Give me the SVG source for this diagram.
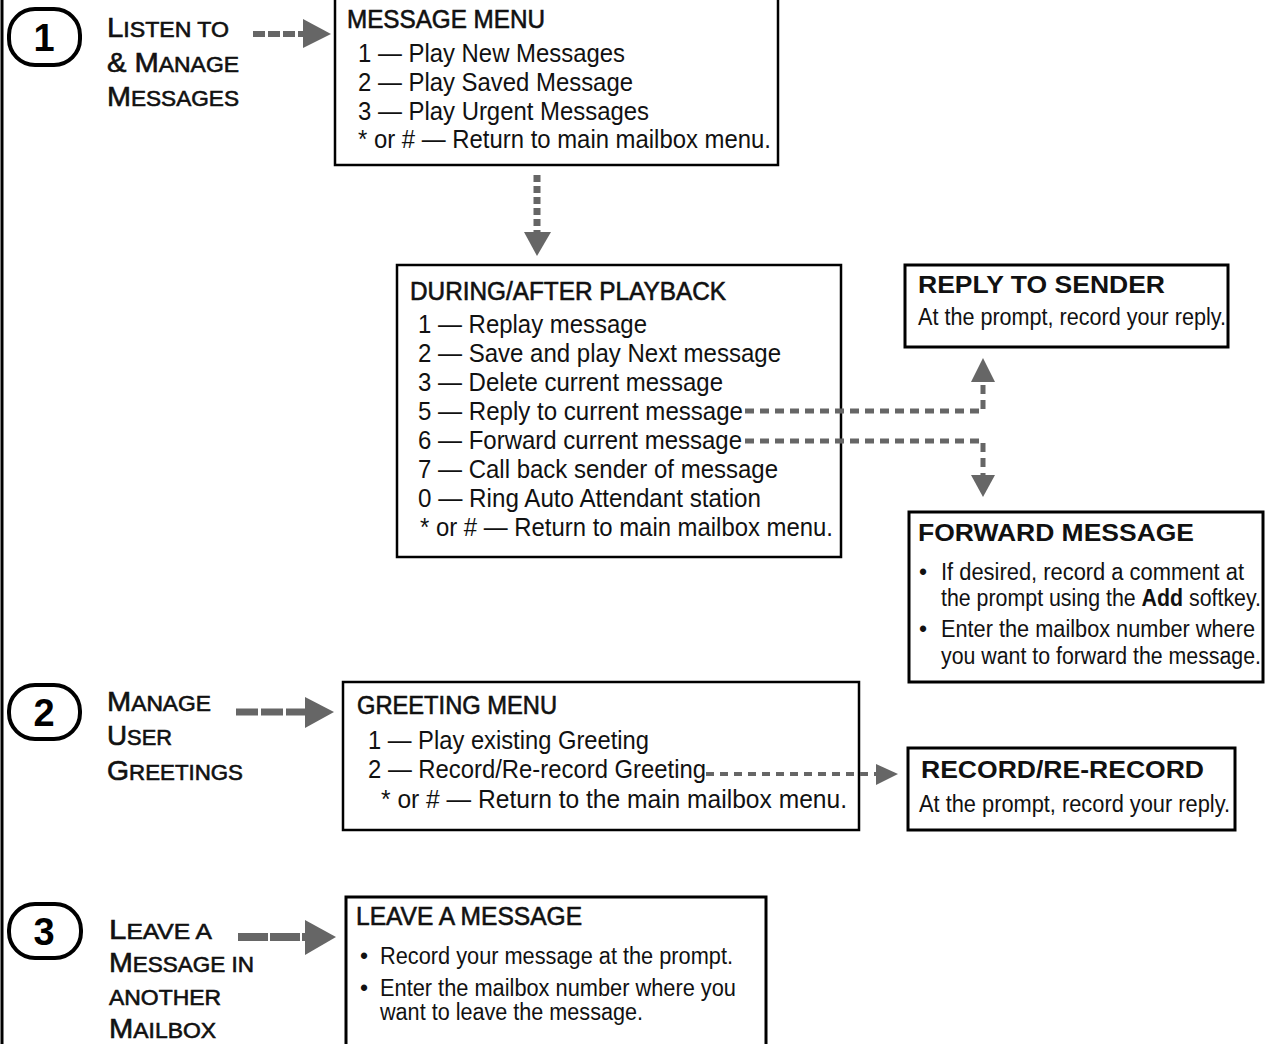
<svg xmlns="http://www.w3.org/2000/svg" width="1266" height="1044" viewBox="0 0 1266 1044">
<style>
.t{font-family:"Liberation Sans",Arial,sans-serif;font-size:26px;fill:#111}
.s{font-size:23px}
.h{font-size:25px;stroke:#111;stroke-width:0.6}
.b{font-family:"Liberation Sans",Arial,sans-serif;font-weight:bold;font-size:24px;fill:#111}
.box{fill:#fff;stroke:#000;stroke-width:2.5}
.box3{fill:#fff;stroke:#000;stroke-width:3}
.oval{fill:none;stroke:#000;stroke-width:4}
.num{font-family:"Liberation Sans",Arial,sans-serif;font-weight:bold;font-size:38px;fill:#000;text-anchor:middle}
.lab{font-family:"Liberation Sans",Arial,sans-serif;font-size:22px;fill:#111;stroke:#111;stroke-width:0.6}
.big{font-size:28px}
.ah{fill:#666}
.c{fill:none;stroke:#666}
</style>
<rect width="1266" height="1044" fill="#fff"/>
<line x1="2" y1="0" x2="2" y2="1044" stroke="#000" stroke-width="3"/>

<g id="step1">
<rect class="oval" x="9" y="9" width="71" height="56" rx="26"/>
<text class="num" x="44" y="51">1</text>
<text class="lab" x="107" y="37" textLength="122" lengthAdjust="spacingAndGlyphs"><tspan class="big">L</tspan>ISTEN TO</text>
<text class="lab" x="107" y="72" textLength="132" lengthAdjust="spacingAndGlyphs"><tspan class="big">&amp; M</tspan>ANAGE</text>
<text class="lab" x="107" y="106" textLength="132" lengthAdjust="spacingAndGlyphs"><tspan class="big">M</tspan>ESSAGES</text>
</g>

<g id="step2">
<rect class="oval" x="9" y="685" width="71" height="54" rx="26"/>
<text class="num" x="44" y="726">2</text>
<text class="lab" x="107" y="711" textLength="104" lengthAdjust="spacingAndGlyphs"><tspan class="big">M</tspan>ANAGE</text>
<text class="lab" x="107" y="745" textLength="65" lengthAdjust="spacingAndGlyphs"><tspan class="big">U</tspan>SER</text>
<text class="lab" x="107" y="780" textLength="136" lengthAdjust="spacingAndGlyphs"><tspan class="big">G</tspan>REETINGS</text>
</g>

<g id="step3">
<rect class="oval" x="9" y="904" width="72" height="54" rx="26"/>
<text class="num" x="44" y="945">3</text>
<text class="lab" x="109" y="939" textLength="103" lengthAdjust="spacingAndGlyphs"><tspan class="big">L</tspan>EAVE A</text>
<text class="lab" x="109" y="972" textLength="145" lengthAdjust="spacingAndGlyphs"><tspan class="big">M</tspan>ESSAGE IN</text>
<text class="lab" x="109" y="1005" textLength="112" lengthAdjust="spacingAndGlyphs">ANOTHER</text>
<text class="lab" x="109" y="1038" textLength="107" lengthAdjust="spacingAndGlyphs"><tspan class="big">M</tspan>AILBOX</text>
</g>

<g id="message-menu">
<rect class="box" x="335" y="-3" width="443" height="168"/>
<text class="t h" x="347" y="28" textLength="198" lengthAdjust="spacingAndGlyphs">MESSAGE MENU</text>
<text class="t" x="358" y="62" textLength="267" lengthAdjust="spacingAndGlyphs">1 — Play New Messages</text>
<text class="t" x="358" y="91" textLength="275" lengthAdjust="spacingAndGlyphs">2 — Play Saved Message</text>
<text class="t" x="358" y="120" textLength="291" lengthAdjust="spacingAndGlyphs">3 — Play Urgent Messages</text>
<text class="t" x="358" y="148" textLength="413" lengthAdjust="spacingAndGlyphs">* or # — Return to main mailbox menu.</text>
</g>

<g id="during-after-playback">
<rect class="box" x="397" y="265" width="444" height="292"/>
<text class="t h" x="410" y="300" textLength="316" lengthAdjust="spacingAndGlyphs">DURING/AFTER PLAYBACK</text>
<text class="t" x="418" y="333" textLength="229" lengthAdjust="spacingAndGlyphs">1 — Replay message</text>
<text class="t" x="418" y="362" textLength="363" lengthAdjust="spacingAndGlyphs">2 — Save and play Next message</text>
<text class="t" x="418" y="391" textLength="305" lengthAdjust="spacingAndGlyphs">3 — Delete current message</text>
<text class="t" x="418" y="420" textLength="325" lengthAdjust="spacingAndGlyphs">5 — Reply to current message</text>
<text class="t" x="418" y="449" textLength="324" lengthAdjust="spacingAndGlyphs">6 — Forward current message</text>
<text class="t" x="418" y="478" textLength="360" lengthAdjust="spacingAndGlyphs">7 — Call back sender of message</text>
<text class="t" x="418" y="507" textLength="343" lengthAdjust="spacingAndGlyphs">0 — Ring Auto Attendant station</text>
<text class="t" x="420" y="536" textLength="413" lengthAdjust="spacingAndGlyphs">* or # — Return to main mailbox menu.</text>
</g>

<g id="reply-to-sender">
<rect class="box3" x="905" y="265" width="323" height="82"/>
<text class="b" x="918" y="293" textLength="247" lengthAdjust="spacingAndGlyphs">REPLY TO SENDER</text>
<text class="t s" x="918" y="325" textLength="308" lengthAdjust="spacingAndGlyphs">At the prompt, record your reply.</text>
</g>

<g id="forward-message">
<rect class="box3" x="909" y="512" width="354" height="170"/>
<text class="b" x="918" y="541" textLength="276" lengthAdjust="spacingAndGlyphs">FORWARD MESSAGE</text>
<text class="t s" x="919" y="580">•</text>
<text class="t s" x="941" y="580" textLength="303" lengthAdjust="spacingAndGlyphs">If desired, record a comment at</text>
<text class="t s" x="941" y="606" textLength="320" lengthAdjust="spacingAndGlyphs">the prompt using the <tspan font-weight="bold">Add</tspan> softkey.</text>
<text class="t s" x="919" y="637">•</text>
<text class="t s" x="941" y="637" textLength="314" lengthAdjust="spacingAndGlyphs">Enter the mailbox number where</text>
<text class="t s" x="941" y="664" textLength="320" lengthAdjust="spacingAndGlyphs">you want to forward the message.</text>
</g>

<g id="greeting-menu">
<rect class="box" x="343" y="682" width="516" height="148"/>
<text class="t h" x="357" y="714" textLength="200" lengthAdjust="spacingAndGlyphs">GREETING MENU</text>
<text class="t" x="368" y="749" textLength="281" lengthAdjust="spacingAndGlyphs">1 — Play existing Greeting</text>
<text class="t" x="368" y="778" textLength="338" lengthAdjust="spacingAndGlyphs">2 — Record/Re-record Greeting</text>
<text class="t" x="381" y="808" textLength="466" lengthAdjust="spacingAndGlyphs">* or # — Return to the main mailbox menu.</text>
</g>

<g id="record-re-record">
<rect class="box3" x="908" y="748" width="327" height="82"/>
<text class="b" x="921" y="778" textLength="283" lengthAdjust="spacingAndGlyphs">RECORD/RE-RECORD</text>
<text class="t s" x="919" y="812" textLength="311" lengthAdjust="spacingAndGlyphs">At the prompt, record your reply.</text>
</g>

<g id="leave-a-message">
<rect class="box3" x="346" y="897" width="420" height="152"/>
<text class="t h" x="356" y="925" textLength="226" lengthAdjust="spacingAndGlyphs">LEAVE A MESSAGE</text>
<text class="t s" x="360" y="964">•</text>
<text class="t s" x="380" y="964" textLength="353" lengthAdjust="spacingAndGlyphs">Record your message at the prompt.</text>
<text class="t s" x="360" y="996">•</text>
<text class="t s" x="380" y="996" textLength="356" lengthAdjust="spacingAndGlyphs">Enter the mailbox number where you</text>
<text class="t s" x="380" y="1020" textLength="263" lengthAdjust="spacingAndGlyphs">want to leave the message.</text>
</g>

<g id="connectors">
<line class="c" x1="253" y1="34" x2="305" y2="34" stroke-width="6" stroke-dasharray="12 3"/>
<polygon class="ah" points="303,19 331,34 303,48"/>
<line class="c" x1="537" y1="175" x2="537" y2="233" stroke-width="7" stroke-dasharray="7 4"/>
<polygon class="ah" points="524,232 551,232 537,256"/>
<path class="c" d="M745 411 H983 V381" stroke-width="5" stroke-dasharray="9 6"/>
<polygon class="ah" points="971,382 995,382 983,358"/>
<path class="c" d="M745 441 H983 V475" stroke-width="5" stroke-dasharray="9 6"/>
<polygon class="ah" points="971,475 995,475 983,497"/>
<line class="c" x1="236" y1="712" x2="306" y2="712" stroke-width="7" stroke-dasharray="22 3"/>
<polygon class="ah" points="305,697 334,712 305,728"/>
<line class="c" x1="706" y1="774" x2="876" y2="774" stroke-width="4" stroke-dasharray="8 6"/>
<polygon class="ah" points="876,764 898,774 876,785"/>
<line class="c" x1="238" y1="937" x2="306" y2="937" stroke-width="8" stroke-dasharray="30 2"/>
<polygon class="ah" points="305,920 336,937 305,955"/>
</g>
</svg>
